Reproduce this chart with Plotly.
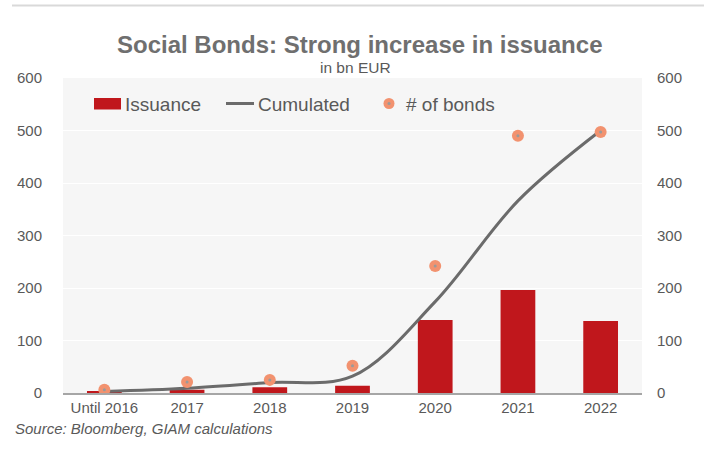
import plotly.graph_objects as go

# Social bond market data (bn EUR)
categories = ["Until 2016", "2017", "2018", "2019", "2020", "2021", "2022"]
issuance = [3, 6, 11, 14, 139, 196, 137]
cumulated = [3, 9, 20, 32, 174, 366, 500]
num_bonds = [6, 21, 25, 52, 242, 490, 497]
y_ticks = [0, 100, 200, 300, 400, 500, 600]

FONT = "Liberation Sans, Arial, sans-serif"
GREY_TXT = "#595959"
RED = "#c0171c"
LINE_GREY = "#6b6b6b"
SALMON = "#f2926f"

W, H = 713, 461
M_L, M_R, M_T, M_B = 63, 71, 78, 68
PW, PH = W - M_L - M_R, H - M_T - M_B


def px_x(p):
    """Pixel column -> paper x."""
    return (p - M_L) / PW


def px_y(p):
    """Pixel row -> paper y."""
    return (H - M_B - p) / PH


fig = go.Figure()

fig.add_trace(go.Bar(
    x=categories, y=issuance, name="Issuance",
    marker=dict(color=RED, line=dict(width=0)),
    width=0.42,
))

fig.add_trace(go.Scatter(
    x=categories, y=cumulated, name="Cumulated", mode="lines",
    line=dict(color=LINE_GREY, width=3, shape="spline", smoothing=1.0),
))

fig.add_trace(go.Scatter(
    x=categories, y=num_bonds, name="# of bonds", mode="markers",
    marker=dict(color=SALMON, size=12, line=dict(width=0)),
    yaxis="y2",
))

# small centre dot inside each bond marker
fig.add_trace(go.Scatter(
    x=categories, y=num_bonds, mode="markers",
    marker=dict(color="#9a9a9a", size=3, line=dict(width=0)),
    yaxis="y2", hoverinfo="skip",
))

# hand-drawn legend row inside the plot area
leg_y = 103.5
legend_shapes = [
    dict(type="rect", xref="paper", yref="paper",
         x0=px_x(94), x1=px_x(121), y0=px_y(109.5), y1=px_y(98),
         fillcolor=RED, line=dict(width=0)),
    dict(type="line", xref="paper", yref="paper",
         x0=px_x(226), x1=px_x(254), y0=px_y(leg_y), y1=px_y(leg_y),
         line=dict(color=LINE_GREY, width=3)),
    dict(type="circle", xref="paper", yref="paper",
         x0=px_x(383.5), x1=px_x(394.5), y0=px_y(leg_y + 5.5), y1=px_y(leg_y - 5.5),
         fillcolor=SALMON, line=dict(width=0)),
    dict(type="circle", xref="paper", yref="paper",
         x0=px_x(387.5), x1=px_x(390.5), y0=px_y(leg_y + 1.5), y1=px_y(leg_y - 1.5),
         fillcolor="#9a9a9a", line=dict(width=0)),
]
legend_labels = [("Issuance", 123), ("Cumulated", 255.5), ("# of bonds", 404)]
legend_annotations = [
    dict(text=t, xref="paper", yref="paper", x=px_x(xp), y=px_y(leg_y + 1),
         xanchor="left", yanchor="middle", showarrow=False,
         font=dict(size=19, color=GREY_TXT))
    for t, xp in legend_labels
]

fig.update_layout(
    width=W, height=H,
    margin=dict(l=M_L, r=M_R, t=M_T, b=M_B),
    paper_bgcolor="white",
    plot_bgcolor="#f6f6f6",
    font=dict(family=FONT, color=GREY_TXT, size=15),
    showlegend=False,
    xaxis=dict(
        type="category", range=[-0.5, 6.5],
        showline=True, linecolor="#a6a6a6", linewidth=2,
        ticks="", showgrid=False,
        tickfont=dict(size=15, color=GREY_TXT),
    ),
    yaxis=dict(
        range=[0, 600], tickvals=y_ticks, ticks="",
        showgrid=True, gridcolor="white", gridwidth=1,
        zeroline=False, showline=False,
        tickfont=dict(size=15, color=GREY_TXT),
        ticklabelstandoff=20,
    ),
    yaxis2=dict(
        range=[0, 600], tickvals=y_ticks, ticks="",
        overlaying="y", side="right", showgrid=False,
        zeroline=False, showline=False,
        tickfont=dict(size=15, color=GREY_TXT),
        ticklabelstandoff=14,
    ),
    shapes=[
        dict(type="line", xref="paper", yref="paper",
             x0=px_x(12), x1=px_x(704), y0=px_y(5.5), y1=px_y(5.5),
             line=dict(color="#d9d9d9", width=2)),
    ] + legend_shapes,
    annotations=[
        dict(text="<b>Social Bonds: Strong increase in issuance</b>",
             xref="paper", yref="paper", x=px_x(359), y=px_y(45),
             xanchor="center", yanchor="middle", showarrow=False,
             font=dict(size=24, color="#6f6f6f")),
        dict(text="in bn EUR",
             xref="paper", yref="paper", x=px_x(355), y=px_y(67.5),
             xanchor="center", yanchor="middle", showarrow=False,
             font=dict(size=15.5, color=GREY_TXT)),
        dict(text="<i>Source: Bloomberg, GIAM calculations</i>",
             xref="paper", yref="paper", x=px_x(13), y=px_y(428),
             xanchor="left", yanchor="middle", showarrow=False,
             font=dict(size=15, color=GREY_TXT)),
    ] + legend_annotations,
)

fig.write_html("out.html")
